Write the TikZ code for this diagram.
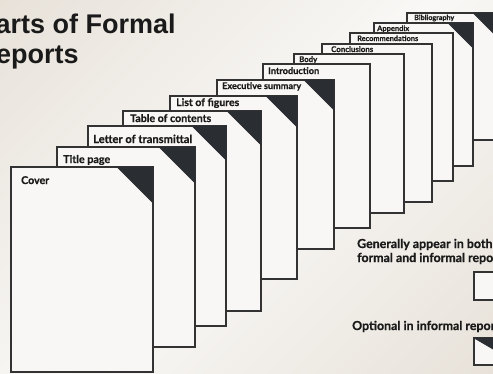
\documentclass[tikz,border=0pt]{standalone}
\usepackage{fontspec}
\usepackage{graphicx}
\setmainfont{Liberation Sans}
\newfontfamily\lfont{Lato}[BoldFeatures={FakeBold=0.7}]
\definecolor{bgA}{HTML}{E0D8CD}
\definecolor{bgB}{HTML}{F9F8F6}
\definecolor{paper}{HTML}{F8F7F5}
\definecolor{edge}{HTML}{333333}
\definecolor{corner}{HTML}{2A2E33}
\definecolor{ink}{HTML}{1A1A1A}
\pgfdeclarehorizontalshading{bgshade}{100bp}{color(0bp)=(bgA); color(50bp)=(bgB); color(100bp)=(bgA)}
\newlength\mylen
\newcommand\fitw[2]{\resizebox{#1pt}{!}{\lfont\bfseries #2}}
\newcommand\rpage[5]{%
  \draw[pg] (#1,#2) rectangle (#3,#4);
  \ifdim #5pt>0pt
    \filldraw[cornerfill] (#3-#5,#2) -- (#3,#2) -- (#3,#2+#5) -- cycle;
  \fi}
\tikzset{
  pg/.style={fill=paper, draw=edge, line width=1.2pt},
  cornerfill/.style={fill=corner, draw=corner, line width=0.6pt, line join=miter},
  lbl/.style={anchor=base west, inner sep=0pt, text=ink},
  ttl/.style={anchor=base west, inner sep=0pt, text=ink, font=\fontsize{27}{30}\selectfont\bfseries},
}
\begin{document}
\settowidth{\mylen}{\lfont\bfseries formal and informal repo}%
\pgfmathsetmacro\legsc{136/\mylen}%
\begin{tikzpicture}[x=1pt,y=-1pt]
\useasboundingbox (0,0) rectangle (493,373);
\shade[shading=bgshade, shading angle=-45] (0,0) rectangle (493,373);
\clip (0,0) rectangle (493,373);
% title
\node[ttl] (t1) at (-22.5,33.3) {Parts of Formal};
\node[ttl] (t2) at (-23.5,63) {Reports};
% pages, back to front
\rpage{407}{13}{497}{140}{24}
\node[lbl] (bib) at (414,20) {\fitw{40}{Bibliography}};
\rpage{374}{23}{473}{166}{25}
\node[lbl] (app) at (377,31) {\fitw{32}{Appendix}};
\rpage{350}{33}{453}{181}{0}
\node[lbl] (rec) at (357,41) {\fitw{61}{Recommendations}};
\rpage{322}{44}{432}{202}{0}
\node[lbl] (con) at (331,52) {\fitw{42}{Conclusions}};
\rpage{294}{54}{404}{213}{0}
\node[lbl] (bod) at (299,62) {\fitw{18}{Body}};
\rpage{263}{64}{370}{228}{0}
\node[lbl] (int) at (268,74) {\fitw{51}{Introduction}};
\rpage{217}{80}{334}{249}{30}
\node[lbl] (exe) at (222,89) {\fitw{79}{Executive summary}};
\rpage{170}{96}{297}{279}{31}
\node[lbl] (lof) at (176,106) {\fitw{63}{List of figures}};
\rpage{123}{111}{261}{311}{34}
\node[lbl] (toc) at (130,122) {\fitw{81}{Table of contents}};
\rpage{88}{126}{226}{326}{34}
\node[lbl] (let) at (93,143) {\fitw{99}{Letter of transmittal}};
\rpage{57}{147}{195}{347}{36}
\node[lbl] (tit) at (63,163) {\fitw{47}{Title page}};
\rpage{11}{167}{153}{372}{36}
\node[lbl] (cov) at (21,184) {\fitw{28}{Cover}};
% legend
\node[lbl] (lg1) at (357,248) {\scalebox{\legsc}{\lfont\bfseries Generally appear in both}};
\node[lbl] (lg2) at (357,262) {\scalebox{\legsc}{\lfont\bfseries formal and informal reports}};
\draw[pg] (474,272) rectangle (510,300);
\node[lbl] (lg3) at (352,330) {\scalebox{\legsc}{\lfont\bfseries Optional in informal reports}};
\draw[pg] (474,338) rectangle (510,365);
\filldraw[cornerfill] (474,338) -- (510,338) -- (510,359) -- cycle;
\end{tikzpicture}
\end{document}
